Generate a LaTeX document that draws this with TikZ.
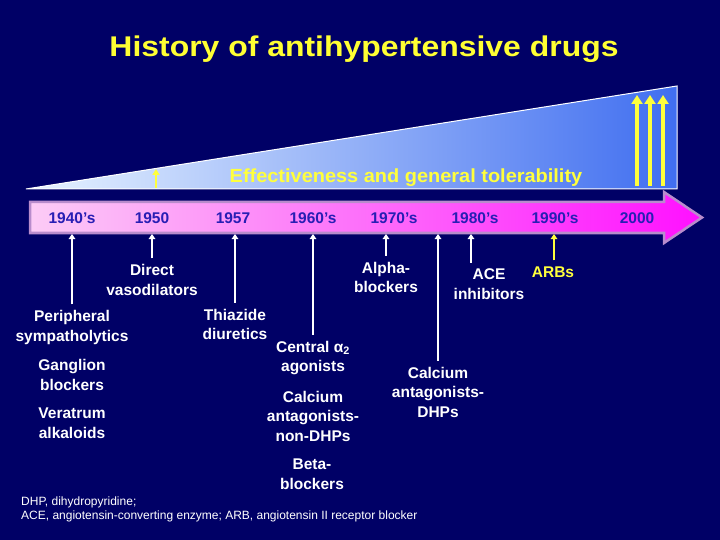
\documentclass[tikz,border=0pt]{standalone}
\usepackage{fontspec}
\setmainfont{Liberation Sans}
\usetikzlibrary{arrows.meta}
\definecolor{bg}{RGB}{0,0,102}
\definecolor{ttl}{RGB}{255,255,51}
\definecolor{yel}{RGB}{255,255,60}
\definecolor{triL}{RGB}{232,244,255}
\definecolor{triR}{RGB}{64,110,240}
\definecolor{pinkL}{RGB}{252,204,246}
\definecolor{pinkR}{RGB}{255,16,255}
\definecolor{pinkB}{RGB}{184,140,204}
\definecolor{yearc}{RGB}{40,30,180}
\tikzset{
  yearlab/.style={font=\bfseries\fontsize{15.5}{18}\selectfont, text=yearc, inner sep=0pt},
  druglab/.style={font=\bfseries\fontsize{15.5}{19.5}\selectfont, text=white, align=center, inner sep=1pt},
  conn/.style={draw=white, line width=1.8pt, -{Triangle[length=5pt,width=6.5pt]}, shorten <=5pt},
  yconn/.style={draw=yel, line width=1.8pt, -{Triangle[length=5pt,width=6.5pt]}, shorten <=5pt},
  bigarrow/.style={draw=yel, line width=3.6pt, -{Triangle[length=9pt,width=11pt]}},
}
\begin{document}
\begin{tikzpicture}[x=1pt,y=-1pt]
\fill[bg] (0,0) rectangle (720,540);
\useasboundingbox (0,0) rectangle (720,540);

\node[font=\bfseries\fontsize{28.5}{32}\selectfont, text=ttl] (title) at (364,49.5) {\scalebox{1.12}[1]{History of antihypertensive drugs}};

% effectiveness wedge
\shade[left color=triL, right color=triR] (26,189) -- (677,86) -- (677,189) -- cycle;
\draw[white, line width=1pt] (26,189) -- (677,86) -- (677,189) -- cycle;
\node[font=\bfseries\fontsize{19}{22}\selectfont, text=yel] (eff) at (406,177.5) {\scalebox{1.05}[1]{Effectiveness and general tolerability}};
\coordinate (w0) at (156,188);
\coordinate (w1) at (156,169);
\draw[yel, line width=2.6pt, -{Triangle[length=6pt,width=7pt]}] (w0) -- (w1);
\coordinate (a1s) at (637,186); \coordinate (a1e) at (637,95);
\coordinate (a2s) at (650,186); \coordinate (a2e) at (650,95);
\coordinate (a3s) at (663,186); \coordinate (a3e) at (663,95);
\draw[bigarrow] (a1s) -- (a1e);
\draw[bigarrow] (a2s) -- (a2e);
\draw[bigarrow] (a3s) -- (a3e);

% timeline arrow
\shadedraw[left color=pinkL, right color=pinkR, draw=pinkB, line width=2.5pt, line join=miter]
  (30,202) -- (664,202) -- (664,192) -- (702,217.5) -- (664,243) -- (664,233) -- (30,233) -- cycle;

\node[yearlab] (y40) at (72,218) {1940's};
\node[yearlab] (y50) at (152,218) {1950};
\node[yearlab] (y57) at (233,218) {1957};
\node[yearlab] (y60) at (313,218) {1960's};
\node[yearlab] (y70) at (394,218) {1970's};
\node[yearlab] (y80) at (475,218) {1980's};
\node[yearlab] (y90) at (555,218) {1990's};
\node[yearlab] (y00) at (637,218) {2000};

% timeline anchor points
\coordinate (t1) at (72,234);
\coordinate (t2) at (152,234);
\coordinate (t3) at (235,234);
\coordinate (t4) at (313,234);
\coordinate (t5) at (386,234);
\coordinate (t6) at (438,234);
\coordinate (t7) at (471,234);
\coordinate (t8) at (554,234);

% drug labels
\node[druglab] (per) at (72,327.5) {Peripheral\\sympatholytics};
\node[druglab] (gan) at (72,375) {Ganglion\\blockers};
\node[druglab] (ver) at (72,423) {Veratrum\\alkaloids};
\node[druglab] (dir) at (152,280) {Direct\\vasodilators};
\node[druglab] (thi) at (235,324.5) {Thiazide\\diuretics};
\node[druglab] (cen) at (313,358) {Central α\textsubscript{2}\\agonists};
\node[druglab] (cnd) at (313,416) {Calcium\\antagonists-\\non-DHPs};
\node[druglab] (bet) at (312,474) {Beta-\\blockers};
\node[druglab] (alp) at (386,277.5) {Alpha-\\blockers};
\node[druglab] (cdh) at (438,392) {Calcium\\antagonists-\\DHPs};
\node[druglab] (ace) at (489,284) {ACE\\inhibitors};
\node[druglab, text=yel] (arb) at (553,272) {ARBs};

% connectors
\draw[conn] (t1 |- per.north) -- (t1);
\draw[conn] (t2 |- dir.north) -- (t2);
\draw[conn] (t3 |- thi.north) -- (t3);
\draw[conn] (t4 |- cen.north) -- (t4);
\draw[conn] (t5 |- alp.north) -- (t5);
\draw[conn] (t6 |- cdh.north) -- (t6);
\draw[conn] (t7 |- ace.north) -- (t7);
\draw[yconn] (t8 |- arb.north) -- (t8);

% footnote
\node[font=\fontsize{12}{14}\selectfont, text=white, align=left, anchor=west, inner sep=0pt] (foot) at (21,509.5)
  {DHP, dihydropyridine;\\ACE, angiotensin-converting enzyme; ARB, angiotensin II receptor blocker};
\end{tikzpicture}
\end{document}
